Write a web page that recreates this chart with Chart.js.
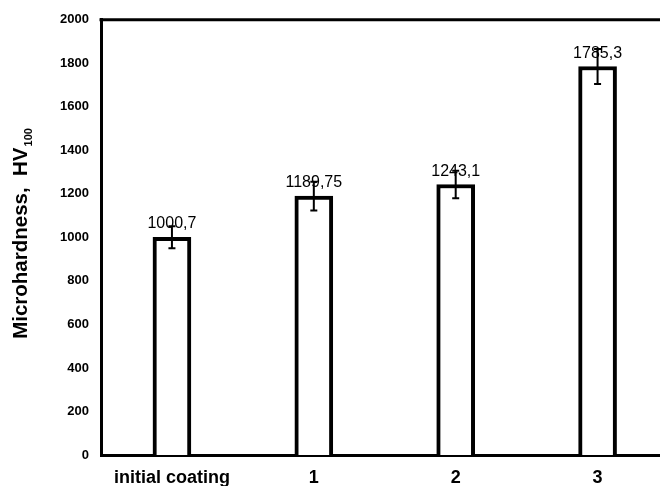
<!DOCTYPE html>
<html>
<head>
<meta charset="utf-8">
<script src="https://cdn.jsdelivr.net/npm/chart.js@4.4.0/dist/chart.umd.min.js"></script>
<style>
  html, body { margin: 0; padding: 0; background: #fff; }
  #wrap { width: 660px; height: 486px; }
</style>
</head>
<body>
<div id="wrap"><canvas id="myChart"></canvas></div>
<script>
// data
const categories = ['initial coating', '1', '2', '3'];
const hardness = [1000.7, 1189.75, 1243.1, 1785.3];
const errors = [50, 66, 63, 80];
const yMin = 0, yMax = 2000, yStep = 200;

const FONT = "Arial, 'Liberation Sans', sans-serif";

// labels, error bars, top frame line and the axis title with subscript
const extras = {
    id: 'extras',
    afterDatasetsDraw(chart) {
        let ctx = chart.ctx, area = chart.chartArea;
        let y = chart.scales.y;
        let meta = chart.getDatasetMeta(0);
        ctx.save();

        ctx.fillStyle = '#000';
        ctx.font = '16px ' + FONT;
        ctx.textAlign = 'center';
        ctx.textBaseline = 'alphabetic';
        meta.data.forEach((bar, i) => {
            let top = y.getPixelForValue(hardness[i]);
            ctx.fillText(String(hardness[i]).replace('.', ','), bar.x, top - 9);
        });

        ctx.strokeStyle = '#000';
        ctx.lineWidth = 2;
        meta.data.forEach((bar, i) => {
            let hi = y.getPixelForValue(hardness[i] + errors[i]);
            let lo = y.getPixelForValue(hardness[i] - errors[i]);
            ctx.beginPath();
            ctx.moveTo(bar.x, hi); ctx.lineTo(bar.x, lo);
            ctx.moveTo(bar.x - 3.5, hi); ctx.lineTo(bar.x + 3.5, hi);
            ctx.moveTo(bar.x - 3.5, lo); ctx.lineTo(bar.x + 3.5, lo);
            ctx.stroke();
        });

        ctx.lineWidth = 3;
        ctx.beginPath();
        ctx.moveTo(area.left - 1.5, area.top);
        ctx.lineTo(chart.width, area.top);
        ctx.stroke();

        // y title, rotated
        let main = 'Microhardness,  HV', sub = '100';
        ctx.font = 'bold 20.5px ' + FONT;
        let w1 = ctx.measureText(main).width;
        ctx.font = 'bold 11px ' + FONT;
        let w2 = ctx.measureText(sub).width;
        let cy = 234;
        ctx.translate(27, cy);
        ctx.rotate(-Math.PI / 2);
        ctx.textAlign = 'left';
        let start = -(w1 + w2) / 2;
        ctx.font = 'bold 20.5px ' + FONT;
        ctx.fillText(main, start, 0);
        ctx.font = 'bold 11px ' + FONT;
        ctx.fillText(sub, start + w1 + 1, 5);
        ctx.restore();
    }
};

const ctx = document.getElementById('myChart');
new Chart(ctx, {
    type: 'bar',
    data: {
        datasets: [{
            data: hardness.map((v, i) => ({ x: i, y: v })),
            backgroundColor: '#fff',
            borderColor: '#000',
            borderWidth: 4,
            barThickness: 38
        }]
    },
    options: {
        responsive: true,
        maintainAspectRatio: false,
        animation: false,
        layout: { padding: { top: 16, right: 0, left: 0, bottom: 0 } },
        plugins: {
            legend: { display: false },
            tooltip: { enabled: false }
        },
        scales: {
            x: {
                type: 'linear',
                offset: false,
                min: -0.5,
                max: 3.44,
                grid: { display: false, drawTicks: false },
                border: { display: true, color: '#000', width: 3 },
                afterBuildTicks: s => { s.ticks = categories.map((c, i) => ({ value: i })); },
                afterFit: s => { s.height = 31; },
                ticks: {
                    color: '#000',
                    padding: 12,
                    autoSkip: false,
                    maxRotation: 0,
                    font: { family: FONT, size: 18, weight: 'bold' },
                    callback: v => categories[v]
                }
            },
            y: {
                min: yMin,
                max: yMax,
                grid: { display: false, drawTicks: false },
                border: { display: true, color: '#000', width: 3 },
                afterFit: s => { s.width = 101; },
                ticks: {
                    stepSize: yStep,
                    color: '#000',
                    padding: 12,
                    font: { family: FONT, size: 13, weight: 'bold' },
                    callback: v => String(v)
                }
            }
        }
    },
    plugins: [extras]
});
</script>
</body>
</html>
